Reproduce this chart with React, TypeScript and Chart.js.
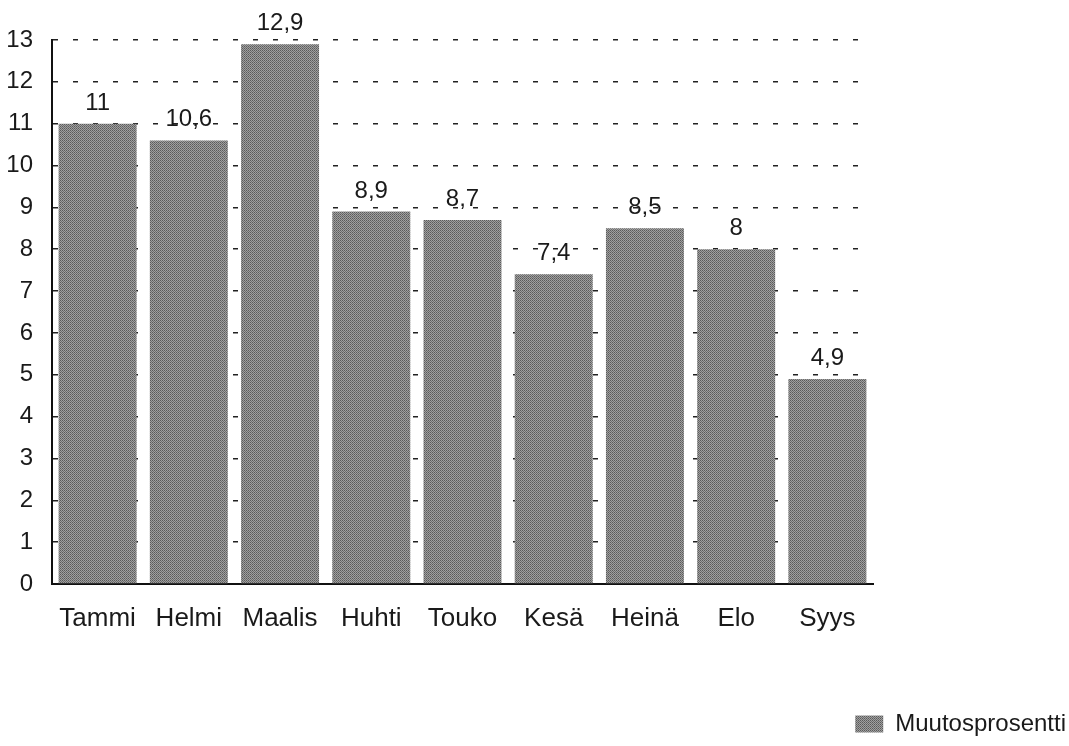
import React, { useEffect, useRef } from "react";
import { Chart, registerables } from "chart.js";

Chart.register(...registerables);

const categories = ["Tammi", "Helmi", "Maalis", "Huhti", "Touko", "Kesä", "Heinä", "Elo", "Syys"];
const values = [11, 10.6, 12.9, 8.9, 8.7, 7.4, 8.5, 8, 4.9];
const seriesName = "Muutosprosentti";
const yMax = 13;

const FONT = "'Liberation Sans', Arial, Helvetica, sans-serif";

function makePattern(): CanvasPattern | string {
  const c = document.createElement("canvas");
  c.width = 4;
  c.height = 4;
  const ctx = c.getContext("2d");
  if (!ctx) return "#828282";
  const cols = ["#5a5a5a", "#a0a0a0", "#6e6e6e", "#929292"];
  for (let y = 0; y < 4; y++) {
    for (let x = 0; x < 4; x++) {
      ctx.fillStyle = (x + y) % 2 === 0 ? cols[(x + 2 * y) % 2 === 0 ? 0 : 2] : cols[(x * y) % 2 === 0 ? 1 : 3];
      ctx.fillRect(x, y, 1, 1);
    }
  }
  const p = ctx.createPattern(c, "repeat");
  return p || "#828282";
}

const valueLabels = {
  id: "valueLabels",
  afterDatasetsDraw(chart: any) {
    const ctx = chart.ctx;
    const meta = chart.getDatasetMeta(0);
    ctx.save();
    ctx.font = `24px ${FONT}`;
    ctx.fillStyle = "#1a1a1a";
    ctx.textAlign = "center";
    ctx.textBaseline = "alphabetic";
    meta.data.forEach((bar: any, i: number) => {
      const v = chart.data.datasets[0].data[i];
      ctx.fillText(String(v).replace(".", ","), bar.x, bar.y - 14);
    });
    ctx.restore();
  },
};

export default function App() {
  const ref = useRef<HTMLCanvasElement>(null);
  useEffect(() => {
    if (!ref.current) return;
    const pattern = makePattern();
    const chart = new Chart(ref.current, {
      type: "bar",
      data: {
        labels: categories,
        datasets: [
          {
            label: seriesName,
            data: values,
            backgroundColor: pattern as any,
            borderWidth: 0,
            barPercentage: 0.855,
            categoryPercentage: 1,
          },
        ],
      },
      plugins: [valueLabels],
      options: {
        animation: false,
        responsive: true,
        maintainAspectRatio: false,
        layout: { padding: { top: 40, left: 0, right: 0, bottom: 0 } },
        plugins: {
          tooltip: { enabled: false },
          legend: {
            display: true,
            position: "bottom",
            align: "end",
            labels: {
              color: "#1a1a1a",
              font: { family: FONT, size: 24 },
              boxWidth: 28,
              boxHeight: 17,
              padding: 3,
            },
          },
        },
        scales: {
          x: {
            grid: { display: false },
            border: { display: true, color: "#111", width: 2 },
            ticks: { color: "#1a1a1a", font: { family: FONT, size: 26 }, padding: 11, maxRotation: 0, autoSkip: false },
            afterFit: (s: any) => {
              s.height = 125;
            },
          },
          y: {
            min: 0,
            max: yMax,
            ticks: { stepSize: 1, color: "#1a1a1a", font: { family: FONT, size: 24 }, padding: 19 },
            grid: { color: "#222", lineWidth: 1.5, drawTicks: false },
            border: { display: true, color: "#111", width: 2, dash: [5, 15] },
            afterFit: (s: any) => {
              s.width = 52;
            },
          },
          y2: {
            position: "right",
            display: true,
            grid: { display: false, drawTicks: false },
            border: { display: false },
            ticks: { display: false },
            afterFit: (s: any) => {
              s.width = 196;
            },
          },
        },
      },
    });
    return () => chart.destroy();
  }, []);
  return (
    <div style={{ position: "fixed", left: 0, top: 0, width: 1069, height: 746, background: "#fff" }}>
      <canvas ref={ref} />
    </div>
  );
}
